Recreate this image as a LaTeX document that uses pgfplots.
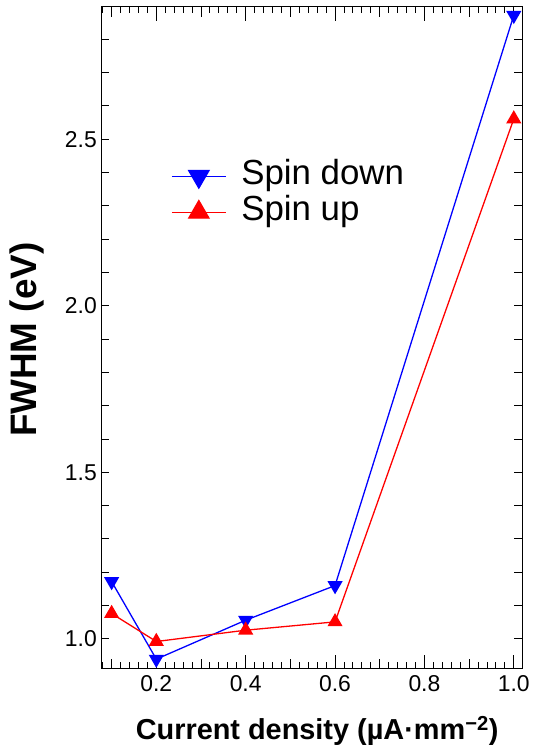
\documentclass[border=0pt]{standalone}
\usepackage{fontspec}
\setmainfont{Liberation Sans}
\usepackage{pgfplots}
\pgfplotsset{compat=1.18}
\begin{document}
\begin{tikzpicture}
\begin{axis}[
  at={(0,0)}, anchor=south west,
  scale only axis, width=422.6pt, height=665pt,
  xmin=0.0768, xmax=1.0185, ymin=0.910, ymax=2.898,
  axis line style={line width=1pt},
  tick align=inside,
  major tick length=14pt, minor tick length=6.5pt,
  every tick/.style={black, line width=0.9pt},
  xtick={0.2,0.4,0.6,0.8,1.0},
  xticklabels={0.2,0.4,0.6,0.8,1.0},
  minor xtick={0.08,0.10,0.12,0.14,0.16,0.18,0.22,0.24,0.26,0.28,0.30,0.32,0.34,0.36,0.38,0.42,0.44,0.46,0.48,0.50,0.52,0.54,0.56,0.58,0.62,0.64,0.66,0.68,0.70,0.72,0.74,0.76,0.78,0.82,0.84,0.86,0.88,0.90,0.92,0.94,0.96,0.98},
  extra x ticks={0.1,0.3,0.5,0.7,0.9},
  extra x tick labels={},
  extra x tick style={major tick length=10pt},
  ytick=\empty,
  extra y ticks={1.0,1.1,1.2,1.3,1.4,1.5,1.6,1.7,1.8,1.9,2.0,2.1,2.2,2.3,2.4,2.5,2.6,2.7,2.8},
  extra y tick labels={1.0,,,,,1.5,,,,,2.0,,,,,2.5,,,},
  extra y tick style={major tick length=8pt},
  /pgf/number format/assume math mode=true,
  tick label style={font=\fontsize{23}{23}\selectfont},
  xticklabel style={yshift=-3pt},
  yticklabel style={xshift=-1pt},
  xlabel={\textbf{Current density (µA·mm\textsuperscript{−2})}},
  ylabel={\textbf{FWHM (eV)}},
  xlabel style={at={(axis description cs:0.513,-0.107)}, anchor=base, font=\fontsize{29}{29}\selectfont},
  ylabel style={at={(axis description cs:-0.153,0.497)}, anchor=base, font=\fontsize{37}{37}\selectfont},
  legend style={draw=none, fill=none, at={(0.166,0.771)}, anchor=north west, inner sep=0pt,
    font=\fontsize{35}{35}\selectfont, nodes={inner sep=0pt, text height=26pt, text depth=10pt},
    row sep=0pt, column sep=15pt},
  legend cell align=left,
  legend image code/.code={\draw[mark repeat=2, mark phase=2, #1, mark size=11.7pt] plot coordinates {(0pt,0pt) (27pt,0pt) (54pt,0pt)};},
]
\addplot[blue, line width=1.3pt, mark=triangle*, mark size=7.5pt, mark options={rotate=180, fill=blue, draw=blue}]
  coordinates {(0.1,1.172) (0.2,0.939) (0.4,1.056) (0.6,1.160) (1.0,2.872)};
\addlegendentry{Spin down}
\addplot[red, line width=1.3pt, mark=triangle*, mark size=7.5pt, mark options={fill=red, draw=red}]
  coordinates {(0.1,1.076) (0.2,0.992) (0.4,1.026) (0.6,1.051) (1.0,2.561)};
\addlegendentry{Spin up}
\end{axis}
\path[use as bounding box] (-101.7pt,-77.3pt) rectangle (433.3pt,671.7pt);
\end{tikzpicture}
\end{document}
